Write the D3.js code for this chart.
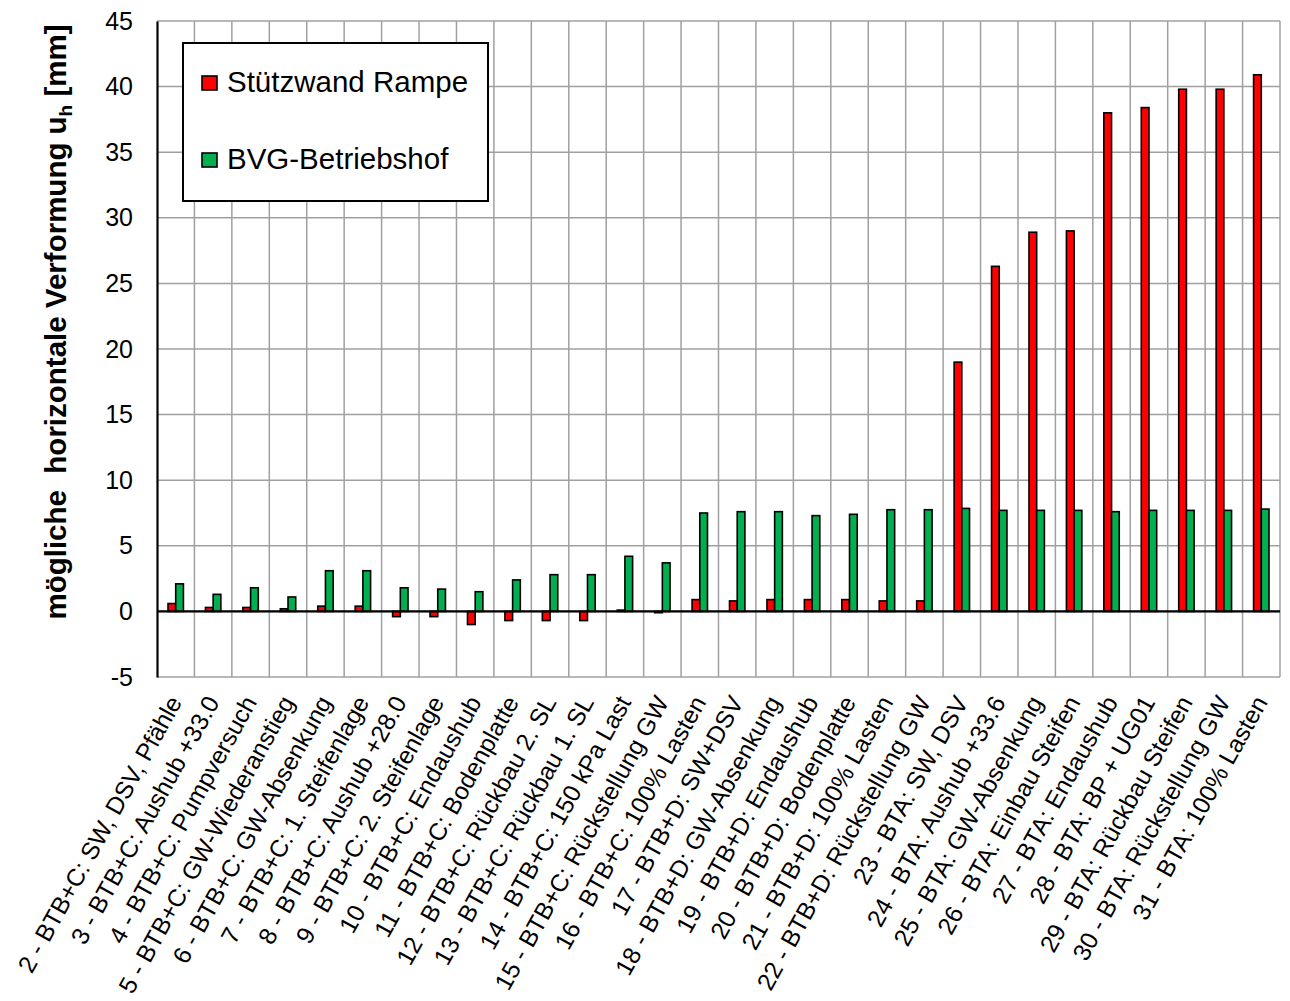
<!DOCTYPE html>
<html>
<head>
<meta charset="utf-8">
<script src="https://cdn.jsdelivr.net/npm/d3@7"></script>
<style>
  body { margin: 0; background: #fff; }
  text { font-family: Arial, "Liberation Sans", sans-serif; fill: #000; }
</style>
</head>
<body>
<div id="chart"></div>
<script>
// Data
const categories = [
  "2 - BTB+C: SW, DSV, Pfähle",
  "3 - BTB+C: Aushub +33.0",
  "4 - BTB+C: Pumpversuch",
  "5 - BTB+C: GW-Wiederanstieg",
  "6 - BTB+C: GW-Absenkung",
  "7 - BTB+C: 1. Steifenlage",
  "8 - BTB+C: Aushub +28.0",
  "9 - BTB+C: 2. Steifenlage",
  "10 - BTB+C: Endaushub",
  "11 - BTB+C: Bodenplatte",
  "12 - BTB+C: Rückbau 2. SL",
  "13 - BTB+C: Rückbau 1. SL",
  "14 - BTB+C: 150 kPa Last",
  "15 - BTB+C: Rückstellung GW",
  "16 - BTB+C: 100% Lasten",
  "17 - BTB+D: SW+DSV",
  "18 - BTB+D: GW-Absenkung",
  "19 - BTB+D: Endaushub",
  "20 - BTB+D: Bodenplatte",
  "21 - BTB+D: 100% Lasten",
  "22 - BTB+D: Rückstellung GW",
  "23 - BTA: SW, DSV",
  "24 - BTA: Aushub +33.6",
  "25 - BTA: GW-Absenkung",
  "26 - BTA: Einbau Steifen",
  "27 - BTA: Endaushub",
  "28 - BTA: BP + UG01",
  "29 - BTA: Rückbau Steifen",
  "30 - BTA: Rückstellung GW",
  "31 - BTA: 100% Lasten"
]

const seriesNames = ["Stützwand Rampe", "BVG-Betriebshof"]
const seriesColors = ["#ff0000", "#00b050"]

const rampe = [0.6, 0.3, 0.3, 0.2, 0.4, 0.4, -0.4, -0.4, -1.0, -0.7,
  -0.7, -0.7, 0.1, -0.1, 0.9, 0.8, 0.9, 0.9, 0.9, 0.8,
  0.8, 19.0, 26.3, 28.9, 29.0, 38.0, 38.4, 39.8, 39.8, 40.9]

const bvg = [2.1, 1.3, 1.8, 1.1, 3.1, 3.1, 1.8, 1.7, 1.5, 2.4,
  2.8, 2.8, 4.2, 3.7, 7.5, 7.6, 7.6, 7.3, 7.4, 7.75,
  7.75, 7.85, 7.7, 7.7, 7.7, 7.6, 7.7, 7.7, 7.7, 7.8]

const yTicks = [-5, 0, 5, 10, 15, 20, 25, 30, 35, 40, 45]

// Dimensions
const dimensions = {
  width: 1290,
  height: 1001,
  left: 157,
  right: 1280,
  top: 21,
  bottom: 677
}

const svg = d3.select('#chart')
  .append('svg')
  .attr('width', dimensions.width)
  .attr('height', dimensions.height)

svg.append('rect')
  .attr('width', dimensions.width)
  .attr('height', dimensions.height)
  .attr('fill', '#fff')

// scales
const xScale = d3.scaleBand()
  .domain(categories)
  .range([dimensions.left, dimensions.right])

const xInner = d3.scaleBand()
  .domain(seriesNames)
  .range([0, xScale.bandwidth()])
  .paddingOuter(1.43)

const yScale = d3.scaleLinear()
  .domain([-5, 45])
  .range([dimensions.bottom, dimensions.top])

// grid
const grid = svg.append('g')
  .attr('stroke', '#a0a0a0')
  .attr('stroke-width', 1.5)

grid.selectAll('line.h')
  .data(yTicks)
  .join('line')
  .attr('class', 'h')
  .attr('x1', dimensions.left)
  .attr('x2', dimensions.right)
  .attr('y1', d => yScale(d))
  .attr('y2', d => yScale(d))

grid.selectAll('line.v')
  .data(categories.slice(1))
  .join('line')
  .attr('class', 'v')
  .attr('x1', d => xScale(d))
  .attr('x2', d => xScale(d))
  .attr('y1', dimensions.top)
  .attr('y2', dimensions.bottom)

grid.append('line')
  .attr('x1', dimensions.right)
  .attr('x2', dimensions.right)
  .attr('y1', dimensions.top)
  .attr('y2', dimensions.bottom)

// bars
const rows = categories.map((c, i) => ({ cat: c, values: [rampe[i], bvg[i]] }))

const groups = svg.append('g')
  .selectAll('g')
  .data(rows)
  .join('g')
  .attr('transform', d => `translate(${xScale(d.cat)},0)`)

groups.selectAll('rect')
  .data(d => d.values.map((v, j) => ({ name: seriesNames[j], value: v, color: seriesColors[j] })))
  .join('rect')
  .attr('x', d => xInner(d.name))
  .attr('width', xInner.bandwidth())
  .attr('y', d => yScale(Math.max(0, d.value)))
  .attr('height', d => Math.abs(yScale(d.value) - yScale(0)))
  .attr('fill', d => d.color)
  .attr('stroke', '#000')
  .attr('stroke-width', 1.6)

// zero line
svg.append('line')
  .attr('x1', dimensions.left)
  .attr('x2', dimensions.right)
  .attr('y1', yScale(0))
  .attr('y2', yScale(0))
  .attr('stroke', '#000')
  .attr('stroke-width', 2.2)

// y axis
const yAxis = d3.axisLeft(yScale)
  .tickValues(yTicks)
  .tickFormat(d => String(d))
  .tickSize(0)
  .tickPadding(24)

const yAxisGroup = svg.append('g')
  .attr('transform', `translate(${dimensions.left},0)`)
  .call(yAxis)

yAxisGroup.select('.domain')
  .attr('stroke', '#000')
  .attr('stroke-width', 2.2)

yAxisGroup.selectAll('text')
  .attr('font-size', 25)
  .attr('font-family', 'Arial, "Liberation Sans", sans-serif')
  .attr('fill', '#000')

// x labels
svg.append('g')
  .selectAll('text')
  .data(categories)
  .join('text')
  .attr('transform', d => `translate(${xScale(d) + xScale.bandwidth() / 2 + 7}, ${dimensions.bottom + 25}) rotate(-61)`)
  .attr('text-anchor', 'end')
  .attr('font-size', 24.5)
  .text(d => d)

// y title
const title = svg.append('text')
  .attr('transform', `translate(66, 322) rotate(-90)`)
  .attr('text-anchor', 'middle')
  .attr('font-size', 29.5)
  .attr('font-weight', 'bold')
  .style('white-space', 'pre')

title.append('tspan').text('mögliche  horizontale Verformung u')
title.append('tspan')
  .attr('font-size', 19)
  .attr('dy', 6)
  .text('h')
title.append('tspan')
  .attr('dy', -6)
  .text(' [mm]')

// legend
const legend = svg.append('g')

legend.append('rect')
  .attr('x', 183)
  .attr('y', 43)
  .attr('width', 305)
  .attr('height', 158)
  .attr('fill', '#fff')
  .attr('stroke', '#000')
  .attr('stroke-width', 2)

const legendItems = legend.selectAll('g')
  .data(seriesNames)
  .join('g')
  .attr('transform', (d, i) => `translate(202, ${76 + i * 77})`)

legendItems.append('rect')
  .attr('width', 15)
  .attr('height', 14)
  .attr('fill', (d, i) => seriesColors[i])
  .attr('stroke', '#000')
  .attr('stroke-width', 1.6)

legendItems.append('text')
  .attr('x', 25)
  .attr('y', 16)
  .attr('font-size', 29.5)
  .text(d => d)
</script>
</body>
</html>
